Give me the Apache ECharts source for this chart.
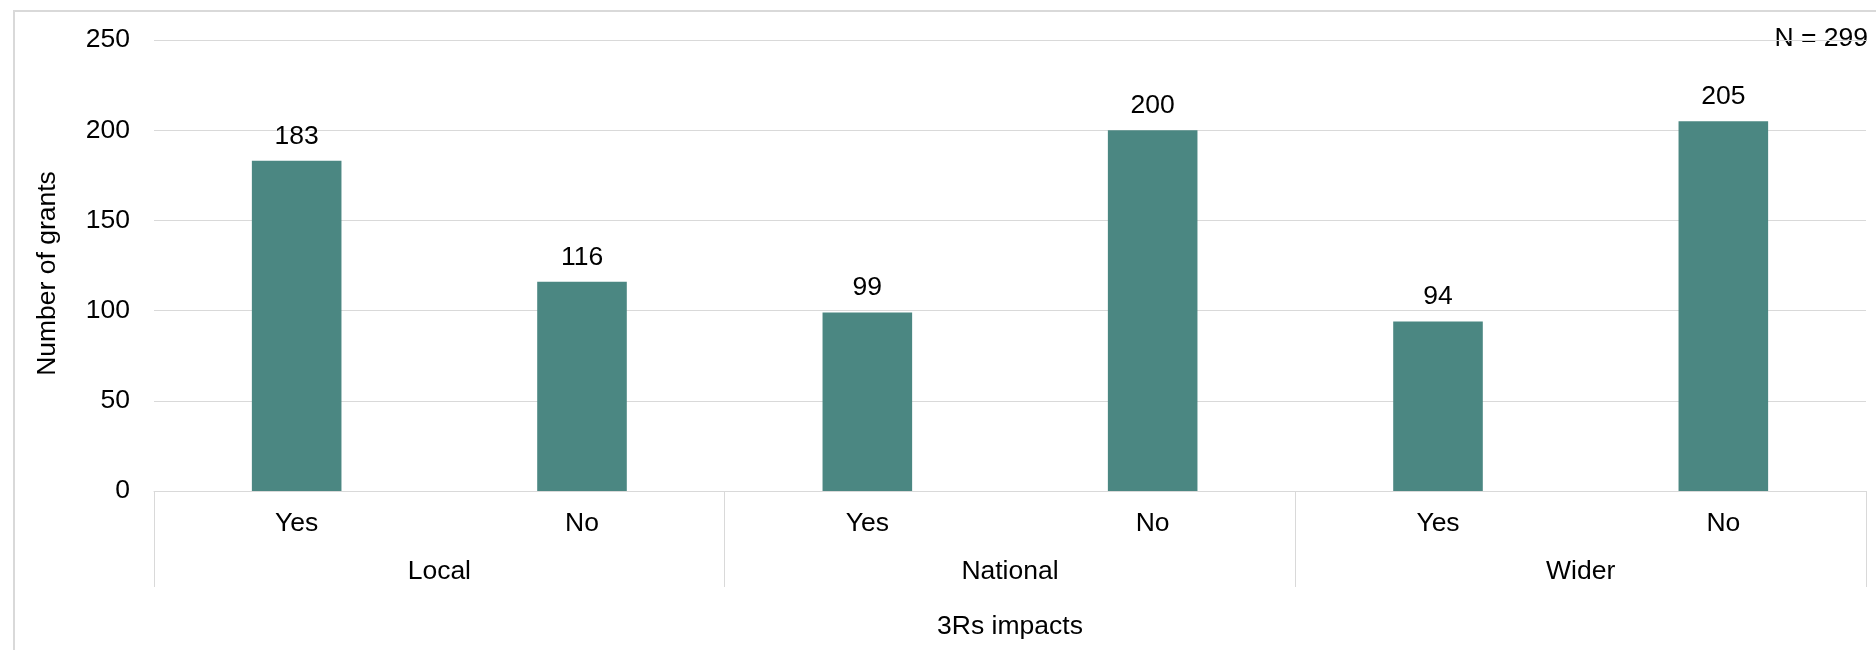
<!DOCTYPE html>
<html><head><meta charset="utf-8">
<script src="https://cdn.jsdelivr.net/npm/echarts@6/dist/echarts.min.js"></script>
<style>html,body{margin:0;padding:0;background:#fff}#c{width:1876px;height:650px}</style>
</head><body><div id="c"></div>
<script>
const categories = ['Yes', 'No', 'Yes', 'No', 'Yes', 'No'];
const groups = ['Local', 'National', 'Wider'];
const values = [183, 116, 99, 200, 94, 205];
const yMin = 0, yMax = 250, yStep = 50;
const yTitle = 'Number of grants';
const xTitle = '3Rs impacts';
const note = 'N = 299';

const FONT = '"Liberation Sans", Arial, sans-serif';
const FS = 26.5;
const GRID = { left: 154, right: 10, top: 40, bottom: 159 };
const LINE = '#d9d9d9';

const chart = echarts.init(document.getElementById('c'), null, { renderer: 'canvas' });
chart.setOption({
  animation: false,
  backgroundColor: '#fff',
  textStyle: { fontFamily: FONT },
  grid: [
    Object.assign({}, GRID),
    Object.assign({}, GRID)
  ],
  xAxis: [
    {
      type: 'category', gridIndex: 0, data: categories, position: 'bottom',
      axisLine: { show: true, lineStyle: { color: LINE, width: 1 } },
      axisTick: { show: false },
      axisLabel: { color: '#000', fontSize: FS, fontFamily: FONT, margin: 19, interval: 0 },
      splitLine: { show: false }
    },
    {
      type: 'category', gridIndex: 1, data: groups, position: 'bottom',
      axisLine: { show: false },
      axisTick: { show: true, length: 96, lineStyle: { color: LINE, width: 1 } },
      axisLabel: { color: '#000', fontSize: FS, fontFamily: FONT, margin: 67, interval: 0 },
      splitLine: { show: false }
    }
  ],
  yAxis: [
    {
      type: 'value', gridIndex: 0, min: yMin, max: yMax, interval: yStep,
      axisLine: { show: false }, axisTick: { show: false },
      axisLabel: { color: '#000', fontSize: FS, fontFamily: FONT, margin: 24 },
      splitLine: { show: true, lineStyle: { color: LINE, width: 1 } }
    },
    {
      type: 'value', gridIndex: 1, min: yMin, max: yMax, show: false,
      splitLine: { show: false }
    }
  ],
  series: [
    {
      type: 'bar', xAxisIndex: 0, yAxisIndex: 0, data: values,
      barWidth: '31.4%',
      itemStyle: { color: '#4b8782' },
      label: { show: true, position: 'top', distance: 11, color: '#000', fontSize: FS, fontFamily: FONT }
    }
  ],
  graphic: [
    { type: 'rect', z: -1, shape: { x: 14, y: 11, width: 1900, height: 700 },
      style: { fill: 'none', stroke: LINE, lineWidth: 2 } },
    { type: 'text', x: 47.5, y: 273.5, rotation: Math.PI / 2,
      style: { text: yTitle, fill: '#000', font: FS + 'px ' + FONT, align: 'center', verticalAlign: 'middle' } },
    { type: 'text', x: 1010, y: 627,
      style: { text: xTitle, fill: '#000', font: FS + 'px ' + FONT, align: 'center', verticalAlign: 'middle' } },
    { type: 'text', x: 1868, y: 38.5,
      style: { text: note, fill: '#000', font: FS + 'px ' + FONT, align: 'right', verticalAlign: 'middle' } }
  ]
});
</script>
</body></html>
